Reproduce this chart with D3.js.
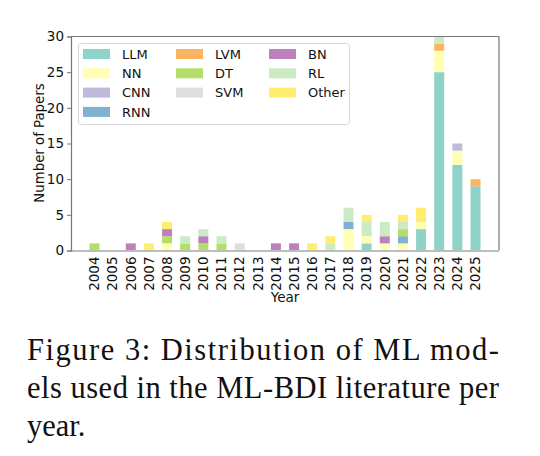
<!DOCTYPE html>
<html><head><meta charset="utf-8">
<script src="https://cdn.jsdelivr.net/npm/d3@7"></script>
<style>body{margin:0;background:#fff}svg{display:block}</style>
</head><body>
<svg id="c" width="540" height="456"></svg>
<script>
const years = ["2004","2005","2006","2007","2008","2009","2010","2011","2012","2013","2014","2015","2016","2017","2018","2019","2020","2021","2022","2023","2024","2025"];
const seriesNames = ["LLM","NN","CNN","RNN","LVM","DT","SVM","BN","RL","Other"];
const seriesColors = ["#8dd3c7","#ffffb3","#bebada","#80b1d3","#fdb462","#b3de69","#dedede","#bc80bd","#ccebc5","#ffed6f"];
const LLM   = [0,0,0,0,0,0,0,0,0,0,0,0,0,0,0,1,0,0,3,25,12,9];
const NN    = [0,0,0,0,1,0,0,0,0,0,0,0,0,0,3,1,1,1,1,3,2,0];
const CNN   = [0,0,0,0,0,0,0,0,0,0,0,0,0,0,0,0,0,0,0,0,1,0];
const RNN   = [0,0,0,0,0,0,0,0,0,0,0,0,0,0,1,0,0,1,0,0,0,0];
const LVM   = [0,0,0,0,0,0,0,0,0,0,0,0,0,0,0,0,0,0,0,1,0,1];
const DT    = [1,0,0,0,1,1,1,1,0,0,0,0,0,0,0,0,0,1,0,0,0,0];
const SVM   = [0,0,0,0,0,0,0,0,1,0,0,0,0,0,0,0,0,0,0,0,0,0];
const BN    = [0,0,1,0,1,0,1,0,0,0,1,1,0,0,0,0,1,0,0,0,0,0];
const RL    = [0,0,0,0,0,1,1,1,0,0,0,0,0,1,2,2,2,1,0,1,0,0];
const Other = [0,0,0,1,1,0,0,0,0,0,0,0,1,1,0,1,0,1,2,0,0,0];
const yTicks = [0,5,10,15,20,25,30];
const captionLines = ["Figure 3:  Distribution of ML mod-","els used in the ML-BDI literature per","year."];

const seriesValues = {LLM,NN,CNN,RNN,LVM,DT,SVM,BN,RL,Other};
const table = years.map((y,i)=>{const r={year:y}; seriesNames.forEach(k=>r[k]=seriesValues[k][i]); return r;});

const svg = d3.select("#c");
const L=71, R=499, T=36.5, B=250.5;
const x = d3.scaleBand().domain(years).range([L,R]).paddingInner(0.45).paddingOuter(1.02);
const y = d3.scaleLinear().domain([0,30]).range([B,T]);
const color = d3.scaleOrdinal().domain(seriesNames).range(seriesColors);
const stack = d3.stack().keys(seriesNames)(table);

svg.append("g").selectAll("g").data(stack).join("g").attr("fill",d=>color(d.key))
  .selectAll("rect").data(d=>d.filter(p=>p[1]>p[0])).join("rect")
  .attr("x",d=>x(d.data.year)).attr("width",x.bandwidth())
  .attr("y",d=>y(d[1])).attr("height",d=>y(d[0])-y(d[1]));

// spines
svg.append("line").attr("x1",L).attr("x2",R).attr("y1",T).attr("y2",T).attr("stroke","#777").attr("stroke-width",1.2);
svg.append("line").attr("x1",R).attr("x2",R).attr("y1",T).attr("y2",B).attr("stroke","#777").attr("stroke-width",1.2);
svg.append("line").attr("x1",L).attr("x2",R).attr("y1",B+0.5).attr("y2",B+0.5).attr("stroke","#bdbdbd").attr("stroke-width",2);

// y axis
const ya = svg.append("g").attr("transform",`translate(${L},0)`)
  .call(d3.axisLeft(y).tickValues(yTicks).tickSize(4).tickPadding(3));
ya.select(".domain").attr("stroke","#777").attr("stroke-width",1.2);
ya.selectAll(".tick line").attr("stroke","#777");
ya.selectAll("text").attr("font-family","DejaVu Sans").attr("font-size",13.5).attr("fill","#111");

// x axis
const xa = svg.append("g").attr("transform",`translate(0,${B+1})`)
  .call(d3.axisBottom(x).tickSize(0).tickPadding(0));
xa.select(".domain").remove();
xa.selectAll("text").attr("font-family","DejaVu Sans").attr("font-size",13.5).attr("fill","#111")
  .attr("transform","rotate(-90)").attr("text-anchor","end").attr("dy","0.35em").attr("x",-5).attr("y",0);

svg.append("text").attr("x",285).attr("y",302).attr("text-anchor","middle")
  .attr("font-family","DejaVu Sans").attr("font-size",13.5).attr("fill","#111").text("Year");
svg.append("text").attr("transform","translate(44,143) rotate(-90)").attr("text-anchor","middle")
  .attr("font-family","DejaVu Sans").attr("font-size",13.3).attr("fill","#111").text("Number of Papers");

// legend
const lg = svg.append("g");
lg.append("rect").attr("x",78.5).attr("y",43.5).attr("width",271).attr("height",81).attr("rx",3)
  .attr("fill","rgba(255,255,255,0.85)").attr("stroke","#d6d6d6");
const colX=[83,176,269], rowY=[54,73.3,92.6,111.9];
const layout=[[0,0],[0,1],[0,2],[0,3],[1,0],[1,1],[1,2],[2,0],[2,1],[2,2]];
seriesNames.forEach((k,i)=>{
  const [c,r]=layout[i];
  lg.append("rect").attr("x",colX[c]).attr("y",rowY[r]-5).attr("width",27).attr("height",10).attr("fill",color(k));
  lg.append("text").attr("x",colX[c]+39).attr("y",rowY[r]).attr("dy","0.36em")
    .attr("font-family","DejaVu Sans").attr("font-size",13).attr("fill","#111").text(k);
});

// caption
const baselines=[360,398,436];
captionLines.forEach((t,i)=>{
  const tx = svg.append("text").attr("x",27).attr("y",baselines[i])
    .attr("font-family","Liberation Serif").attr("font-size",30.5).attr("fill","#111").text(t);
  if(i<2) tx.attr("textLength",472).attr("lengthAdjust","spacing");
});
</script>
</body></html>
